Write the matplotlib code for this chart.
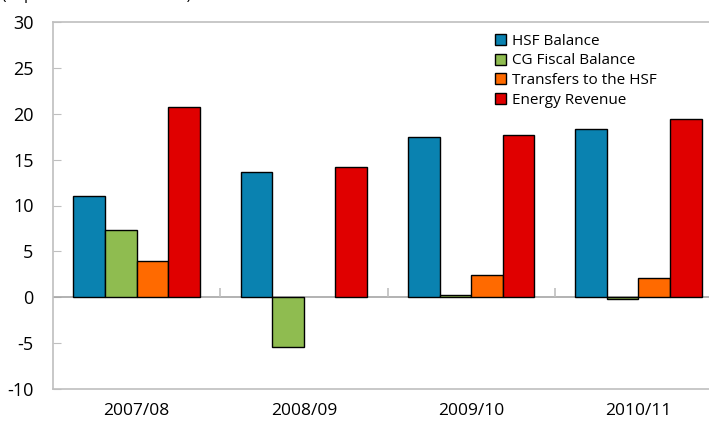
import numpy as np
import matplotlib
matplotlib.use("Agg")
import matplotlib.pyplot as plt

# data
years = ['2007/08', '2008/09', '2009/10', '2010/11']
hsf_balance = [11.0, 13.7, 17.5, 18.3]
cg_fiscal = [7.3, -5.4, 0.2, -0.2]
transfers = [4.0, np.nan, 2.4, 2.1]   # no transfer in 2008/09
energy_rev = [20.7, 14.2, 17.7, 19.4]
series_names = ['HSF Balance', 'CG Fiscal Balance', 'Transfers to the HSF', 'Energy Revenue']
colors = ['#0A82B0', '#8FBC50', '#FF6A00', '#E00000']

plt.rcParams['font.family'] = ['Open Sans', 'DejaVu Sans']
plt.rcParams['axes.unicode_minus'] = False

fig = plt.figure(figsize=(7.09, 4.25), dpi=100)
ax = fig.add_axes([53/709, 36/425, 669/709, 367/425])

x = np.arange(len(years))
w = 0.189
allseries = [hsf_balance, cg_fiscal, transfers, energy_rev]
for i, (vals, name, c) in enumerate(zip(allseries, series_names, colors)):
    ax.bar(x + (i - 1.5) * w, vals, w, color=c, edgecolor='black', linewidth=1.0, label=name, zorder=3)

ax.set_xlim(-0.5, 3.5)
ax.set_ylim(-10, 30)
ax.set_yticks(range(-10, 31, 5))
ax.set_xticks(x)
ax.set_xticklabels(years, fontsize=12.5)
ax.tick_params(axis='y', direction='in', length=6, color='#BFBFBF', labelsize=13, pad=14)
ax.tick_params(axis='x', length=0, pad=10)

# zero line and category separators
ax.axhline(0, color='#A6A6A6', linewidth=1.2, zorder=2)
ax.vlines([0.5, 1.5, 2.5], 0, 1.0, color='#BFBFBF', linewidth=1.2, zorder=2)

for s in ax.spines.values():
    s.set_color('#BFBFBF')
    s.set_linewidth(1.2)

leg = ax.legend(loc='upper left', bbox_to_anchor=(0.64, 1.005), frameon=False, fontsize=11,
                handlelength=0.75, handleheight=0.75, handletextpad=0.4, labelspacing=0.3)

# unit line, mostly cut off at the top of the picture
fig.text(0.003, 1 + 1.0/425, '(In percent of non-oil GDP)', fontsize=11, va='baseline', ha='left')

fig.savefig('out.png', dpi=100)
